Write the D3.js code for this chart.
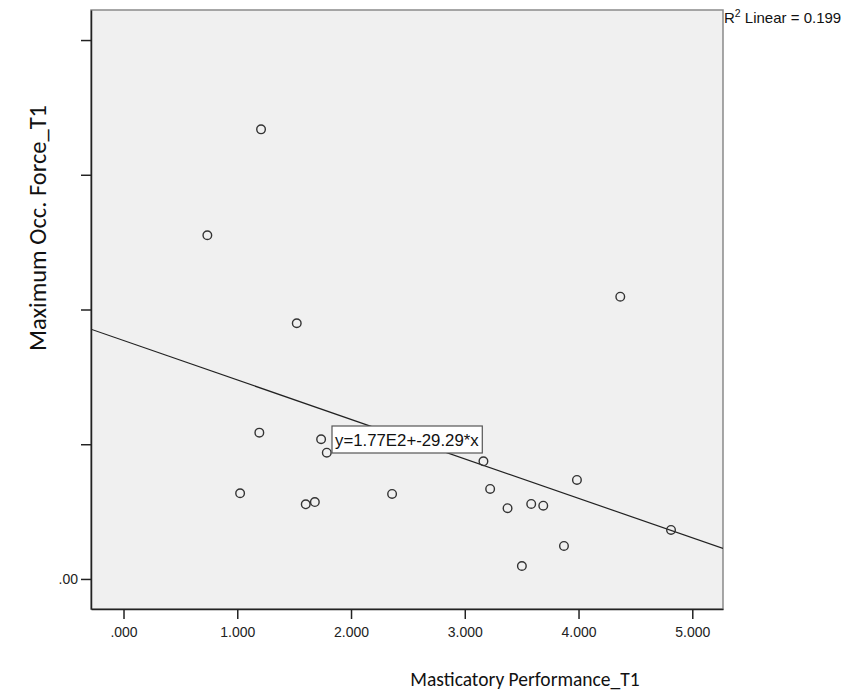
<!DOCTYPE html>
<html>
<head>
<meta charset="utf-8">
<script src="https://cdn.jsdelivr.net/npm/d3@7"></script>
<style>
  body { margin: 0; background: #fff; }
  .tick text { font-family: "Liberation Sans", Arial, sans-serif; font-size: 14px; fill: #222; }
  .axis-title { font-family: Calibri, Carlito, Lato, sans-serif; fill: #111; }
</style>
</head>
<body>
<div id="chart"></div>
<script>
// Masticatory Performance_T1 (x) vs Maximum Occ. Force_T1 (y)
var xValues = [1.209, 0.737, 1.523, 4.367, 1.194, 1.737, 1.787, 1.025, 1.602, 1.682,
  2.361, 3.164, 3.223, 3.986, 3.376, 3.584, 3.690, 4.813, 3.872, 3.502];
var yValues = [333.7, 255.1, 189.8, 209.5, 108.6, 103.7, 93.7, 63.6, 55.4, 57.1,
  63.1, 87.3, 66.8, 73.5, 52.5, 55.7, 54.4, 36.4, 24.5, 9.6];

// fit line shown by SPSS: y = 1.77E2 + -29.29*x
var fitIntercept = 177;
var fitSlope = -29.29;
var rSquared = 0.199;

var xTicks = [0, 1, 2, 3, 4, 5];
var xTickLabels = [".000", "1.000", "2.000", "3.000", "4.000", "5.000"];
var yTicks = [0, 100, 200, 300, 400];
var yTickLabels = [".00", "", "", "", ""];

var svgWidth = 844;
var svgHeight = 695;

// plot frame
var margin = { top: 10, right: 121, bottom: 86, left: 91 };
var chartWidth = svgWidth - margin.left - margin.right;
var chartHeight = svgHeight - margin.top - margin.bottom;

var svg = d3.select("#chart")
  .append("svg")
  .attr("width", svgWidth)
  .attr("height", svgHeight);

var chartGroup = svg.append("g")
  .attr("transform", `translate(${margin.left}, ${margin.top})`);

var xScale = d3.scaleLinear()
  .domain([-0.2858, 5.27])
  .range([0, chartWidth]);

var yScale = d3.scaleLinear()
  .domain([-22.3, 422.3])
  .range([chartHeight, 0]);

// background panel
chartGroup.append("rect")
  .attr("width", chartWidth)
  .attr("height", chartHeight)
  .attr("fill", "#f0f0f0")
  .attr("stroke", "#8a8a8a")
  .attr("stroke-width", 1.5);

// axes
var bottomAxis = d3.axisBottom(xScale)
  .tickValues(xTicks)
  .tickSize(10)
  .tickSizeOuter(0)
  .tickPadding(8)
  .tickFormat((d, i) => xTickLabels[i]);

var leftAxis = d3.axisLeft(yScale)
  .tickValues(yTicks)
  .tickSize(10)
  .tickSizeOuter(0)
  .tickPadding(3)
  .tickFormat((d, i) => yTickLabels[i]);

var xAxis = chartGroup.append("g")
  .attr("transform", `translate(0, ${chartHeight})`)
  .call(bottomAxis);

var yAxis = chartGroup.append("g")
  .call(leftAxis);

[xAxis, yAxis].forEach(function(ax) {
  ax.select(".domain").attr("stroke", "#222").attr("stroke-width", 1.5);
  ax.selectAll(".tick line").attr("stroke", "#222").attr("stroke-width", 1.5);
});

// clip for fit line
chartGroup.append("clipPath")
  .attr("id", "plotClip")
  .append("rect")
  .attr("width", chartWidth)
  .attr("height", chartHeight);

var xDomain = xScale.domain();
chartGroup.append("line")
  .attr("clip-path", "url(#plotClip)")
  .attr("x1", xScale(xDomain[0]))
  .attr("y1", yScale(fitIntercept + fitSlope * xDomain[0]))
  .attr("x2", xScale(xDomain[1]))
  .attr("y2", yScale(fitIntercept + fitSlope * xDomain[1]))
  .attr("stroke", "#222")
  .attr("stroke-width", 1.2);

// points
var points = xValues.map((x, i) => ({ x: x, y: yValues[i] }));

chartGroup.selectAll("circle")
  .data(points)
  .enter()
  .append("circle")
  .attr("cx", d => xScale(d.x))
  .attr("cy", d => yScale(d.y))
  .attr("r", 4.3)
  .attr("fill", "none")
  .attr("stroke", "#333")
  .attr("stroke-width", 1.4);

// equation label
var eqGroup = svg.append("g")
  .attr("transform", "translate(332, 426)");

var eqText = eqGroup.append("text")
  .attr("x", 3)
  .attr("y", 20)
  .attr("font-family", "Liberation Sans, Arial, sans-serif")
  .attr("font-size", 16.8)
  .attr("fill", "#111")
  .text(`y=${(fitIntercept / 100).toFixed(2)}E2+${fitSlope.toFixed(2)}*x`);

var eqBox = eqText.node().getBBox();
eqGroup.insert("rect", "text")
  .attr("x", 0)
  .attr("y", 0)
  .attr("width", eqBox.width + 6)
  .attr("height", 27)
  .attr("fill", "#fff")
  .attr("stroke", "#555")
  .attr("stroke-width", 1.2);

// R squared annotation
var rText = svg.append("text")
  .attr("x", margin.left + chartWidth + 1)
  .attr("y", 23)
  .attr("font-family", "Liberation Sans, Arial, sans-serif")
  .attr("font-size", 15)
  .attr("fill", "#111");
rText.append("tspan").text("R");
rText.append("tspan").attr("dy", -6).attr("font-size", 10.5).text("2");
rText.append("tspan").attr("dy", 6).text(` Linear = ${rSquared.toFixed(3)}`);

// axis titles
svg.append("text")
  .attr("class", "axis-title")
  .attr("x", 525)
  .attr("y", 686)
  .attr("font-size", 19.5)
  .attr("text-anchor", "middle")
  .text("Masticatory Performance_T1");

svg.append("text")
  .attr("class", "axis-title")
  .attr("transform", "translate(46, 228) rotate(-90)")
  .attr("font-size", 24.5)
  .attr("text-anchor", "middle")
  .text("Maximum Occ. Force_T1");
</script>
</body>
</html>
